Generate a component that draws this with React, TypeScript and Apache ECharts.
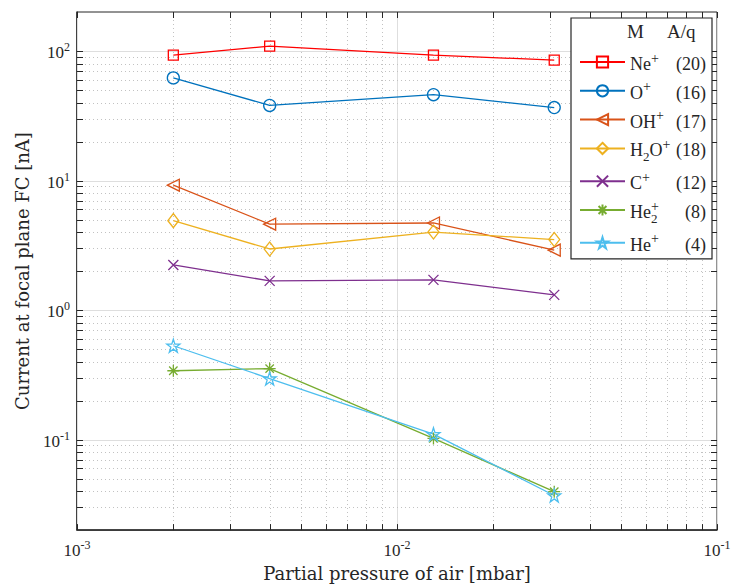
import React, { useEffect, useRef } from 'react';
import * as echarts from 'echarts';

const pressures = [0.002, 0.004, 0.013, 0.031];
const ionNames = ['Ne+', 'O+', 'OH+', 'H2O+', 'C+', 'He2+', 'He+'];
const ionLabels = ['{n|Ne}{p|+}', '{n|O}{p|+}', '{n|OH}{p|+}', '{n|H}{b|2}{n|O}{p|+}', '{n|C}{p|+}', '{n|He}{z|2}{p|+}', '{n|He}{p|+}'];
const massPerCharge = [20, 16, 17, 18, 12, 8, 4];
const neValues = [93, 109, 93, 85];
const oValues = [62, 38, 46, 36.6];
const ohValues = [9.2, 4.6, 4.7, 2.9];
const h2oValues = [4.9, 2.96, 4.0, 3.5];
const cValues = [2.23, 1.68, 1.71, 1.31];
const he2Values = [0.34, 0.353, 0.102, 0.0396];
const heValues = [0.53, 0.296, 0.11, 0.037];
const xMajorTicks = [0.001, 0.01, 0.1];
const xMinorTicks = [0.002, 0.003, 0.004, 0.005, 0.006, 0.007, 0.008, 0.009, 0.02, 0.03, 0.04, 0.05, 0.06, 0.07, 0.08, 0.09];
const yMajorTicks = [0.1, 1, 10, 100];
const yMinorTicks = [0.03, 0.04, 0.05, 0.06, 0.07, 0.08, 0.09, 0.2, 0.3, 0.4, 0.5, 0.6, 0.7, 0.8, 0.9, 2, 3, 4, 5, 6, 7, 8, 9, 20, 30, 40, 50, 60, 70, 80, 90];

const colors = ['#FF0000', '#0072BD', '#D95319', '#EDB120', '#7E2F8E', '#77AC30', '#4DBEEE'];

const starPts = Array.from({ length: 10 }, (_, i) => {
  const a = -Math.PI / 2 + (i * Math.PI) / 5;
  const r = i % 2 === 0 ? 10 : 3.82;
  return [10 + r * Math.cos(a), 10 + r * Math.sin(a)];
});
const starPath = 'path://M' + starPts.map((p) => p[0].toFixed(2) + ',' + p[1].toFixed(2)).join(' L') + ' Z';
const triLeftPath = 'path://M0,5 L10,0 L10,10 Z';
const xPath = 'path://M0,0 L10,10 M10,0 L0,10';
const asteriskPath = 'path://M5,0 L5,10 M0,5 L10,5 M1.5,1.5 L8.5,8.5 M8.5,1.5 L1.5,8.5';

const symbols = ['rect', 'circle', triLeftPath, 'diamond', xPath, asteriskPath, starPath];
const symbolSizes: any[] = [10, 12, 12, [11, 14], 10, 12, 13];
const allValues = [neValues, oValues, ohValues, h2oValues, cValues, he2Values, heValues];

const FONT = 'Liberation Serif';
const FONT2 = 'DejaVu Serif';
const TXT = '#262626';

function powLabel(v: number) {
  const e = Math.log10(v);
  const r = Math.round(e);
  if (Math.abs(e - r) > 1e-6) return '';
  return '{b|10}{s|' + r + '}';
}

const labelRich = {
  b: { fontFamily: FONT, fontSize: 17, lineHeight: 20, color: TXT, verticalAlign: 'bottom' },
  s: { fontFamily: FONT, fontSize: 12, lineHeight: 12, color: TXT, verticalAlign: 'top' },
};

export default function App() {
  const ref = useRef<HTMLDivElement>(null);
  useEffect(() => {
    if (!ref.current) return;
    const chart = echarts.init(ref.current, null, { renderer: 'svg' });

    const gridData = [
      ...xMajorTicks.map((v) => [v, 1, 0]),
      ...xMinorTicks.map((v) => [v, 1, 1]),
      ...yMajorTicks.map((v) => [0.01, v, 2]),
      ...yMinorTicks.map((v) => [0.01, v, 3]),
    ];

    const lineSeries = ionNames.map((name, i) => ({
      type: 'line',
      name,
      data: pressures.map((x, j) => [x, allValues[i][j]]),
      symbol: symbols[i],
      symbolSize: symbolSizes[i],
      showAllSymbol: true,
      lineStyle: { color: colors[i], width: 1.3 },
      itemStyle: { color: 'rgba(255,255,255,0)', borderColor: colors[i], borderWidth: 1.3 },
      z: 3,
    }));

    const option: any = {
      animation: false,
      backgroundColor: '#fff',
      textStyle: { fontFamily: FONT },
      grid: { left: 77, right: 18, top: 12, bottom: 55, show: true, borderColor: TXT, borderWidth: 1, backgroundColor: '#fff' },
      xAxis: {
        type: 'log',
        logBase: 10,
        min: 0.001,
        max: 0.1,
        axisLine: { show: true, lineStyle: { color: TXT, width: 1.5 } },
        axisTick: { show: false },
        splitLine: { show: false },
        axisLabel: { formatter: powLabel, margin: 9, rich: labelRich, fontFamily: FONT },
        name: 'Partial pressure of air [mbar]',
        nameLocation: 'middle',
        nameGap: 33,
        nameTextStyle: { fontFamily: FONT2, fontSize: 18, color: TXT },
      },
      yAxis: {
        type: 'log',
        logBase: 10,
        min: 0.02,
        max: 200,
        axisLine: { show: true, lineStyle: { color: TXT, width: 1.5 } },
        axisTick: { show: false },
        splitLine: { show: false },
        axisLabel: { formatter: powLabel, margin: 7, rich: labelRich, fontFamily: FONT, showMinLabel: false, showMaxLabel: false },
        name: 'Current at focal plane FC [nA]',
        nameLocation: 'middle',
        nameGap: 46,
        nameTextStyle: { fontFamily: FONT2, fontSize: 18, color: TXT },
      },
      legend: {
        data: ionNames,
        right: 23,
        top: 18,
        orient: 'vertical',
        itemWidth: 45,
        itemHeight: 14,
        itemGap: 6.8,
        padding: [33, 6, 5, 8],
        backgroundColor: '#fff',
        borderColor: TXT,
        borderWidth: 1.2,
        borderRadius: 0,
        formatter: (name: string) => {
          const i = ionNames.indexOf(name);
          return ionLabels[i] + '{q|(' + massPerCharge[i] + ')}';
        },
        textStyle: {
          width: 76,
          overflow: 'none',
          fontFamily: FONT,
          color: TXT,
          rich: {
            n: { fontFamily: FONT, fontSize: 18, lineHeight: 22, color: TXT, verticalAlign: 'bottom' },
            p: { fontFamily: FONT, fontSize: 14, lineHeight: 11, color: TXT, verticalAlign: 'top' },
            b: { fontFamily: FONT, fontSize: 13, lineHeight: 12, color: TXT, verticalAlign: 'bottom', padding: [0, 0, -4, 0] },
            z: { fontFamily: FONT, fontSize: 13, lineHeight: 12, color: TXT, verticalAlign: 'bottom', padding: [0, 0, -4, 0], width: 0.01 },
            q: { fontFamily: FONT, fontSize: 18, lineHeight: 22, color: TXT, align: 'right', verticalAlign: 'bottom' },
          },
        },
      },
      graphic: [
        { type: 'text', left: 627, top: 22, z: 100, style: { text: 'M', fontFamily: FONT, fontSize: 19, fill: TXT } },
        { type: 'text', left: 667, top: 22, z: 100, style: { text: 'A/q', fontFamily: FONT, fontSize: 19, fill: TXT } },
      ],
      series: [
        {
          type: 'custom',
          silent: true,
          z: 1,
          data: gridData,
          renderItem: (params: any, api: any) => {
            const cs = params.coordSys;
            const kind = api.value(2);
            const p = api.coord([api.value(0), api.value(1)]);
            const major = kind % 2 === 0;
            const gridStyle = major
              ? { stroke: '#dedede', lineWidth: 1 }
              : { stroke: '#c2c2c2', lineWidth: 1, lineDash: [1, 3] };
            const tickStyle = { stroke: TXT, lineWidth: 1 };
            const T = 6;
            const children: any[] = [];
            if (kind < 2) {
              const x = Math.round(p[0]) + 0.5;
              const y0 = cs.y, y1 = cs.y + cs.height;
              children.push({ type: 'line', shape: { x1: x, y1: y0, x2: x, y2: y1 }, style: gridStyle });
              children.push({ type: 'line', shape: { x1: x, y1: y1, x2: x, y2: y1 - T }, style: tickStyle });
              children.push({ type: 'line', shape: { x1: x, y1: y0, x2: x, y2: y0 + T }, style: tickStyle });
            } else {
              const y = Math.round(p[1]) + 0.5;
              const x0 = cs.x, x1 = cs.x + cs.width;
              children.push({ type: 'line', shape: { x1: x0, y1: y, x2: x1, y2: y }, style: gridStyle });
              children.push({ type: 'line', shape: { x1: x0, y1: y, x2: x0 + T, y2: y }, style: tickStyle });
              children.push({ type: 'line', shape: { x1: x1, y1: y, x2: x1 - T, y2: y }, style: tickStyle });
            }
            return { type: 'group', children };
          },
        },
        ...lineSeries,
      ],
    };
    chart.setOption(option);
    return () => chart.dispose();
  }, []);
  return <div ref={ref} style={{ position: 'fixed', left: 0, top: 0, width: 735, height: 587, background: '#fff' }} />;
}
